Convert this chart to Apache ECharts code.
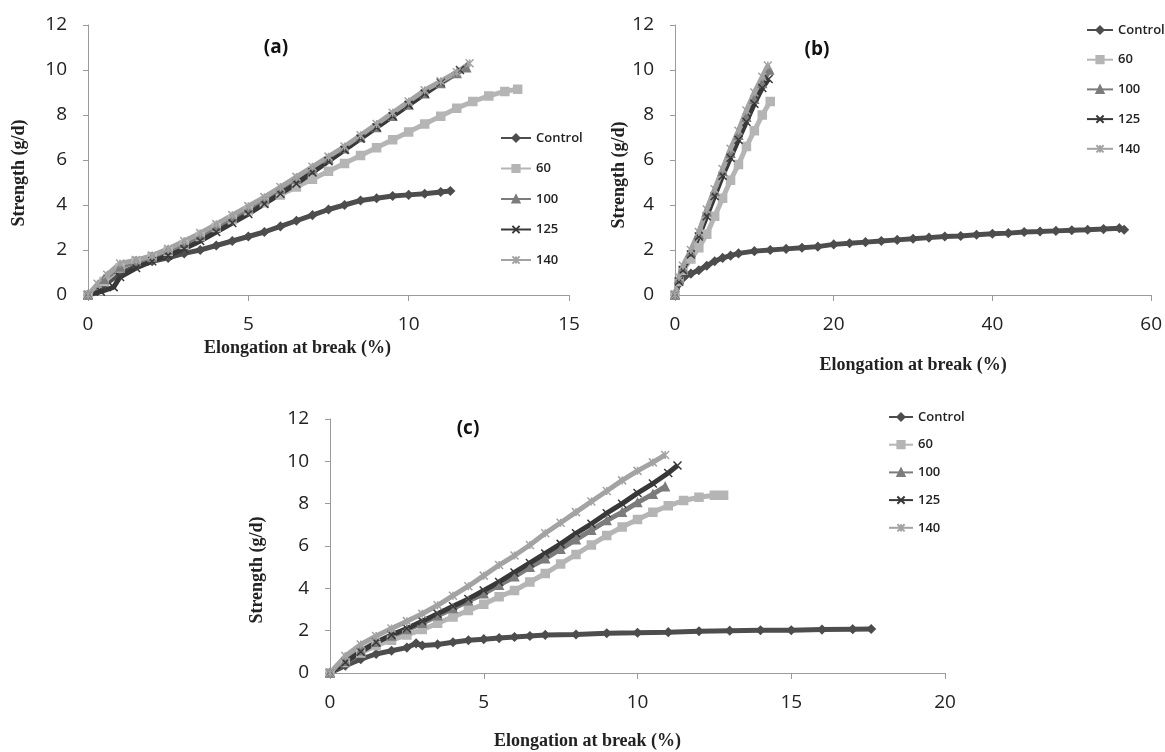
<!DOCTYPE html>
<html>
<head>
	<meta charset="utf-8">
	<title>Strength vs elongation</title>
	<script type="text/javascript" src="https://cdn.jsdelivr.net/npm/echarts@6/dist/echarts.min.js"></script>
	<style type="text/css">
		html,body{ margin:0; padding:0; background:#fff; }
		#chart{ width:1165px; height:752px; }
	</style>
</head>
<body>
	<div id="chart"></div>
<script type="text/javascript">
	// legend names
	var names = ['Control', '60', '100', '125', '140'];

	// panel (a): [elongation %, strength g/d]
	var aControl = [[0,0],[0.5,0.45],[1,0.95],[1.5,1.3],[2,1.5],[2.5,1.65],[3,1.85],[3.5,2.0],[4,2.2],[4.5,2.4],[5,2.6],[5.5,2.8],[6,3.05],[6.5,3.3],[7,3.55],[7.5,3.8],[8,4.0],[8.5,4.2],[9,4.3],[9.5,4.4],[10,4.45],[10.5,4.5],[11,4.58],[11.3,4.62]];
	var a60 = [[0,0],[0.5,0.6],[1,1.2],[1.5,1.5],[2,1.7],[2.5,1.95],[3,2.25],[3.5,2.6],[4,3.0],[4.5,3.35],[5,3.75],[5.5,4.1],[6,4.45],[6.5,4.8],[7,5.15],[7.5,5.5],[8,5.85],[8.5,6.2],[9,6.55],[9.5,6.9],[10,7.25],[10.5,7.6],[11,7.95],[11.5,8.3],[12,8.6],[12.5,8.85],[13,9.05],[13.4,9.15]];
	var a100 = [[0,0],[0.5,0.7],[1,1.25],[1.5,1.5],[2,1.7],[2.5,2.0],[3,2.3],[3.5,2.65],[4,3.05],[4.5,3.45],[5,3.85],[5.5,4.25],[6,4.7],[6.5,5.15],[7,5.6],[7.5,6.05],[8,6.5],[8.5,7.0],[9,7.45],[9.5,7.95],[10,8.45],[10.5,8.95],[11,9.4],[11.5,9.85],[11.8,10.1]];
	var a125 = [[0,0],[0.4,0.15],[0.8,0.35],[1,0.8],[1.5,1.2],[2,1.5],[2.5,1.75],[3,2.05],[3.5,2.4],[4,2.8],[4.5,3.2],[5,3.6],[5.5,4.05],[6,4.5],[6.5,4.95],[7,5.45],[7.5,5.95],[8,6.45],[8.5,6.95],[9,7.45],[9.5,7.95],[10,8.45],[10.5,8.95],[11,9.45],[11.6,10.0]];
	var a140 = [[0,0],[0.3,0.5],[0.6,0.9],[1,1.4],[1.5,1.55],[2,1.75],[2.5,2.05],[3,2.4],[3.5,2.75],[4,3.15],[4.5,3.55],[5,3.95],[5.5,4.35],[6,4.8],[6.5,5.25],[7,5.7],[7.5,6.15],[8,6.6],[8.5,7.1],[9,7.6],[9.5,8.1],[10,8.6],[10.5,9.1],[11,9.5],[11.5,9.9],[11.9,10.3]];

	// panel (b)
	var bControl = [[0,0],[0.5,0.5],[1,0.75],[2,0.95],[3,1.1],[4,1.3],[5,1.5],[6,1.65],[7,1.75],[8,1.85],[10,1.95],[12,2.0],[14,2.05],[16,2.1],[18,2.15],[20,2.25],[22,2.3],[24,2.35],[26,2.4],[28,2.45],[30,2.5],[32,2.55],[34,2.6],[36,2.62],[38,2.68],[40,2.72],[42,2.75],[44,2.8],[46,2.82],[48,2.85],[50,2.88],[52,2.9],[54,2.93],[56,2.97],[56.6,2.9]];
	var b60 = [[0,0],[0.5,0.6],[1,1.1],[2,1.6],[3,2.1],[4,2.7],[5,3.5],[6,4.3],[7,5.1],[8,5.8],[9,6.6],[10,7.3],[11,8.0],[12,8.6]];
	var b100 = [[0,0],[0.5,0.7],[1,1.2],[2,1.9],[3,2.7],[4,3.7],[5,4.6],[6,5.5],[7,6.3],[8,7.1],[9,7.9],[10,8.7],[11,9.4],[11.9,10.0]];
	var b125 = [[0,0],[0.5,0.6],[1,1.1],[2,1.8],[3,2.6],[4,3.5],[5,4.4],[6,5.3],[7,6.1],[8,6.9],[9,7.7],[10,8.5],[11,9.2],[11.8,9.6]];
	var b140 = [[0,0],[0.5,0.8],[1,1.3],[2,2.0],[3,2.8],[4,3.8],[5,4.7],[6,5.6],[7,6.5],[8,7.3],[9,8.2],[10,9.0],[11,9.7],[11.7,10.2]];

	// panel (c)
	var cControl = [[0,0],[0.5,0.35],[1,0.65],[1.5,0.9],[2,1.05],[2.5,1.2],[2.8,1.4],[3,1.3],[3.5,1.35],[4,1.45],[4.5,1.55],[5,1.6],[5.5,1.65],[6,1.7],[6.5,1.75],[7,1.8],[8,1.82],[9,1.88],[10,1.9],[11,1.93],[12,1.97],[13,2.0],[14,2.02],[15,2.02],[16,2.05],[17,2.07],[17.6,2.08]];
	var c60 = [[0,0],[0.5,0.5],[1,0.95],[1.5,1.3],[2,1.55],[2.5,1.8],[3,2.05],[3.5,2.35],[4,2.65],[4.5,2.95],[5,3.25],[5.5,3.6],[6,3.9],[6.5,4.3],[7,4.7],[7.5,5.15],[8,5.6],[8.5,6.05],[9,6.5],[9.5,6.9],[10,7.25],[10.5,7.6],[11,7.9],[11.5,8.15],[12,8.3],[12.5,8.4],[12.8,8.4]];
	var c100 = [[0,0],[0.5,0.55],[1,1.05],[1.5,1.45],[2,1.75],[2.5,2.05],[3,2.35],[3.5,2.7],[4,3.05],[4.5,3.4],[5,3.75],[5.5,4.15],[6,4.55],[6.5,5.0],[7,5.4],[7.5,5.85],[8,6.3],[8.5,6.75],[9,7.2],[9.5,7.6],[10,8.05],[10.5,8.45],[10.9,8.8]];
	var c125 = [[0,0],[0.5,0.5],[1,1.0],[1.5,1.45],[2,1.8],[2.5,2.1],[3,2.45],[3.5,2.8],[4,3.15],[4.5,3.5],[5,3.9],[5.5,4.3],[6,4.75],[6.5,5.2],[7,5.65],[7.5,6.1],[8,6.6],[8.5,7.05],[9,7.55],[9.5,8.0],[10,8.5],[10.5,8.95],[11,9.45],[11.3,9.8]];
	var c140 = [[0,0],[0.5,0.8],[1,1.35],[1.5,1.75],[2,2.1],[2.5,2.45],[3,2.8],[3.5,3.2],[4,3.65],[4.5,4.1],[5,4.6],[5.5,5.1],[6,5.55],[6.5,6.05],[7,6.6],[7.5,7.1],[8,7.6],[8.5,8.1],[9,8.6],[9.5,9.1],[10,9.55],[10.5,9.95],[10.9,10.3]];

	// axis ranges
	var xMax = [15, 60, 20];
	var xStep = [5, 20, 5];
	var yMax = 12, yStep = 2;

	var colors = ['#4d4d4d', '#b5b5b5', '#7c7c7c', '#383838', '#a3a3a3'];
	var symbols = [
		'diamond',
		'rect',
		'triangle',
		'path://M0,0L10,10M10,0L0,10',
		'path://M0,0L10,10M10,0L0,10M5,0L5,10'
	];
	var panels = [
		[aControl, a60, a100, a125, a140],
		[bControl, b60, b100, b125, b140],
		[cControl, c60, c100, c125, c140]
	];

	var myChart = echarts.init(document.getElementById('chart'), null, {renderer: 'canvas'});

	var tickFont = {fontFamily: 'Open Sans', fontSize: 19, color: '#222'};
	var nameFont = {fontFamily: 'Liberation Serif', fontWeight: 'bold', fontSize: 18, color: '#222'};
	var lineStyleAxis = {color: '#9a9a9a', width: 1};

	function xAxis(i, gap, pad){
		return {
			type: 'value', gridIndex: i, min: 0, max: xMax[i], interval: xStep[i],
			name: 'Elongation at break (%)', nameLocation: 'middle', nameGap: gap,
			nameTextStyle: Object.assign({padding: pad}, nameFont),
			axisLine: {lineStyle: lineStyleAxis},
			axisTick: {show: true, length: 6, lineStyle: lineStyleAxis},
			axisLabel: Object.assign({margin: 20}, tickFont),
			splitLine: {show: false}
		};
	}
	function yAxis(i, gap, pad){
		return {
			type: 'value', gridIndex: i, min: 0, max: yMax, interval: yStep,
			name: 'Strength (g/d)', nameLocation: 'middle', nameGap: gap,
			nameTextStyle: Object.assign({padding: pad}, nameFont),
			axisLine: {show: true, lineStyle: lineStyleAxis},
			axisTick: {show: true, length: 5, lineStyle: lineStyleAxis},
			axisLabel: Object.assign({margin: 21}, tickFont),
			splitLine: {show: false}
		};
	}
	function legend(left, top, gap, w){
		return {
			data: names, orient: 'vertical', left: left, top: top,
			itemGap: gap, itemWidth: w, itemHeight: 9,
			textStyle: {fontFamily: 'Open Sans', fontWeight: 600, fontSize: 13, lineHeight: 14, color: '#222'}
		};
	}

	var series = [];
	panels.forEach(function(sets, p){
		sets.forEach(function(d, k){
			series.push({
				name: names[k], type: 'line', xAxisIndex: p, yAxisIndex: p,
				data: d, symbol: symbols[k], symbolSize: 8, showSymbol: true,
				lineStyle: {color: colors[k], width: 5},
				itemStyle: {color: colors[k], borderColor: colors[k], borderWidth: 1.5},
				animation: false
			});
		});
	});

	var titleFont = {fontFamily: 'Open Sans', fontWeight: 'bold', fontSize: 19, color: '#111'};
	var option = {
		backgroundColor: '#fff',
		title: [
			{text: '(a)', left: 271, top: 33, textAlign: 'center', textStyle: titleFont},
			{text: '(b)', left: 812, top: 35, textAlign: 'center', textStyle: titleFont},
			{text: '(c)', left: 463, top: 414, textAlign: 'center', textStyle: titleFont}
		],
		legend: [
			legend(495, 126, 16.5, 30),
			legend(1081, 18, 15.7, 26),
			legend(883, 405, 13.7, 24)
		],
		grid: [
			{left: 88, top: 25, width: 481, height: 270},
			{left: 675, top: 25, width: 478, height: 270},
			{left: 330, top: 419, width: 615, height: 254}
		],
		xAxis: [
			xAxis(0, 44, [0, 62, 0, 0]),
			xAxis(1, 61, [0, 0, 0, 0]),
			xAxis(2, 59, [0, 100, 0, 0])
		],
		yAxis: [
			yAxis(0, 60, [0, 26, 0, 0]),
			yAxis(1, 40, [0, 30, 0, 0]),
			yAxis(2, 64, [0, 48, 0, 0])
		],
		series: series
	};
	myChart.setOption(option);
</script>
</body>
</html>
